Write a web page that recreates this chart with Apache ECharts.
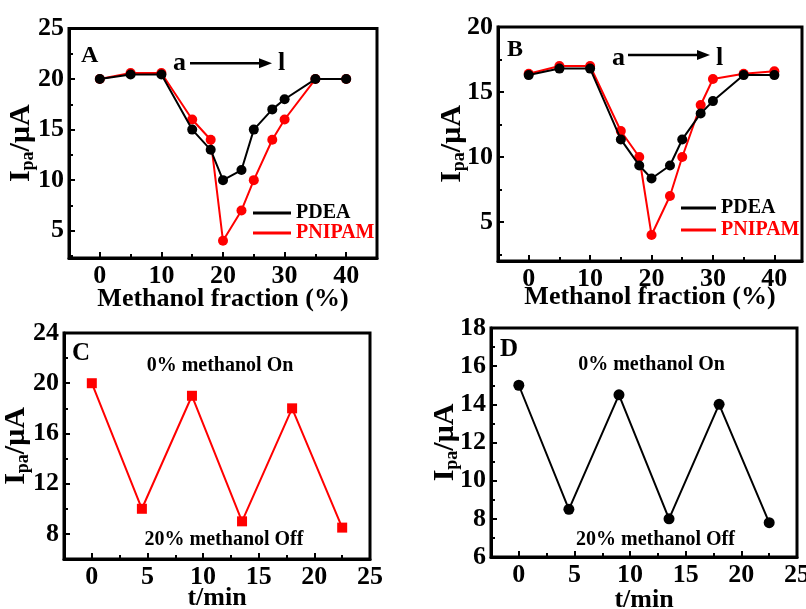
<!DOCTYPE html>
<html><head><meta charset="utf-8">
<script src="https://cdn.jsdelivr.net/npm/echarts@6/dist/echarts.min.js"></script>
<style>html,body{margin:0;padding:0;background:#fff}#c{width:806px;height:609px}</style>
</head><body><div id="c"></div>
<script>
// ---------- data ----------
const fractionX = [0, 5, 10, 15, 18, 20, 23, 25, 28, 30, 35, 40];
const pdeaA   = [20, 20.45, 20.45, 15, 13, 10, 11, 15, 17, 18, 20, 20];
const pnipamA = [20, 20.6, 20.6, 16, 14, 4, 7, 10, 14, 16, 20, 20];
const pdeaB   = [16.3, 16.8, 16.8, 11.35, 9.35, 8.35, 9.35, 11.35, 13.35, 14.3, 16.3, 16.3];
const pnipamB = [16.4, 17, 17, 12, 10, 4, 7, 10, 14, 16, 16.4, 16.6];
const timeX = [0, 4.5, 9, 13.5, 18, 22.5];
const ipaC = [20, 10, 19, 9, 18, 8.5];
const ipaD = [15, 8.5, 14.5, 8, 14, 7.8];

// tick labels / tick positions
const fracLabels = [0, 10, 20, 30, 40];
const fracMinor = [-5, 5, 15, 25, 35, 45];
const yLabelsA = [5, 10, 15, 20, 25];
const yMinorA = [2.5, 7.5, 12.5, 17.5, 22.5];
const yLabelsB = [5, 10, 15, 20];
const yMinorB = [2.5, 7.5, 12.5, 17.5];
const timeLabels = [0, 5, 10, 15, 20, 25];
const timeMinor = [-2.5, 2.5, 7.5, 12.5, 17.5, 22.5];
const yLabelsC = [8, 12, 16, 20, 24];
const yMinorC = [6, 10, 14, 18, 22];
const yLabelsD = [6, 8, 10, 12, 14, 16, 18];
const yMinorD = [7, 9, 11, 13, 15, 17];

const seriesNames = ['PDEA', 'PNIPAM'];
const xTitleA = 'Methanol fraction (%)';
const xTitleC = 't/min';

// ---------- styling helpers ----------
const SERIF = '"Liberation Serif", "Times New Roman", serif';
const RED = '#ff0000';
const BLACK = '#000000';
const zip = (xs, ys) => xs.map((x, i) => [x, ys[i]]);

const yName = '{m|I}{s|pa}{m|/μA}';
const yNameStyle = {
  color: BLACK,
  rich: {
    m: { fontFamily: SERIF, fontWeight: 'bold', fontSize: 30, lineHeight: 32 },
    s: { fontFamily: SERIF, fontWeight: 'bold', fontSize: 18, lineHeight: 15, verticalAlign: 'bottom' }
  }
};

function mainX(g, min, max, labels, name, nameGap) {
  return {
    gridIndex: g, type: 'value', min, max, position: 'bottom',
    axisLine: { onZero: false, lineStyle: { color: BLACK, width: 3 } },
    axisTick: { inside: true, length: 6, lineStyle: { color: BLACK, width: 2 }, customValues: labels },
    axisLabel: { customValues: labels, color: BLACK, fontFamily: SERIF, fontWeight: 'bold', fontSize: 26, margin: 5 },
    splitLine: { show: false },
    name, nameLocation: 'middle', nameGap, nameMoveOverlap: false,
    nameTextStyle: { color: BLACK, fontFamily: SERIF, fontWeight: 'bold', fontSize: 26 }
  };
}
function mainY(g, min, max, labels, nameGap) {
  return {
    gridIndex: g, type: 'value', min, max, position: 'left',
    axisLine: { onZero: false, lineStyle: { color: BLACK, width: 3 } },
    axisTick: { inside: true, length: 6, lineStyle: { color: BLACK, width: 2 }, customValues: labels },
    axisLabel: { customValues: labels, color: BLACK, fontFamily: SERIF, fontWeight: 'bold', fontSize: 26, margin: 5 },
    splitLine: { show: false },
    name: yName, nameLocation: 'middle', nameGap, nameMoveOverlap: false, nameTextStyle: yNameStyle
  };
}
function minorAxis(g, min, max, ticks, pos) {
  return {
    gridIndex: g, type: 'value', min, max, position: pos,
    axisLine: { show: false, onZero: false },
    axisTick: { inside: true, length: 4, lineStyle: { color: BLACK, width: 2 }, customValues: ticks },
    axisLabel: { show: false },
    splitLine: { show: false }
  };
}
function lineSeries(name, g, data, color, symbol, size, z) {
  return {
    type: 'line', name, xAxisIndex: g, yAxisIndex: g, data,
    symbol, symbolSize: size, z,
    lineStyle: { color, width: 2 }, itemStyle: { color },
    emphasis: { disabled: true }
  };
}
const gridBox = (left, top, width, height) => ({
  left, top, width, height, show: true, borderColor: BLACK, borderWidth: 3,
  backgroundColor: 'transparent', containLabel: false, outerBoundsMode: 'none'
});
const txt = (text, x, y, size, color, align) => ({
  type: 'text', x, y, silent: true,
  style: { text, fill: color || BLACK, font: 'bold ' + size + 'px ' + SERIF, align: align || 'left', verticalAlign: 'middle' }
});
const arrow = (x1, x2, y) => ({
  type: 'group', silent: true, children: [
    { type: 'line', shape: { x1, y1: y, x2: x2 - 10, y2: y }, style: { stroke: BLACK, lineWidth: 2.5 } },
    { type: 'polygon', shape: { points: [[x2 - 13, y - 5], [x2, y], [x2 - 13, y + 5]] }, style: { fill: BLACK } }
  ]
});
const legendAt = (left, top, gap, w) => ({
  orient: 'vertical', left, top, padding: 0, itemGap: gap, itemWidth: w, itemHeight: 3,
  icon: 'rect', selectedMode: false,
  textStyle: { fontFamily: SERIF, fontWeight: 'bold', fontSize: 20, lineHeight: 20 },
  data: [
    { name: seriesNames[0], textStyle: { color: BLACK } },
    { name: seriesNames[1], textStyle: { color: RED } }
  ]
});

const option = {
  animation: false,
  backgroundColor: '#ffffff',
  grid: [
    gridBox(69, 28.5, 308, 229.5),
    gridBox(498, 27, 304, 234),
    gridBox(64, 333, 306, 226),
    gridBox(491, 328, 306, 229)
  ],
  xAxis: [
    mainX(0, -5, 45, fracLabels, xTitleA, 28),
    mainX(1, -5, 44.5, fracLabels, xTitleA, 23),
    mainX(2, -2.5, 25, timeLabels, xTitleC, 26),
    mainX(3, -2.5, 25, timeLabels, xTitleC, 30),
    minorAxis(0, -5, 45, fracMinor, 'bottom'),
    minorAxis(1, -5, 44.5, fracMinor, 'bottom'),
    minorAxis(2, -2.5, 25, timeMinor, 'bottom'),
    minorAxis(3, -2.5, 25, timeMinor, 'bottom')
  ],
  yAxis: [
    mainY(0, 2.3, 25, yLabelsA, 32),
    mainY(1, 2, 20, yLabelsB, 30),
    mainY(2, 6, 24, yLabelsC, 32),
    mainY(3, 6, 18, yLabelsD, 30),
    minorAxis(0, 2.3, 25, yMinorA, 'left'),
    minorAxis(1, 2, 20, yMinorB, 'left'),
    minorAxis(2, 6, 24, yMinorC, 'left'),
    minorAxis(3, 6, 18, yMinorD, 'left')
  ],
  legend: [legendAt(253, 203, 0, 38), legendAt(681, 198, 2, 35)],
  series: [
    lineSeries(seriesNames[1], 0, zip(fractionX, pnipamA), RED, 'circle', 10, 2),
    lineSeries(seriesNames[0], 0, zip(fractionX, pdeaA), BLACK, 'circle', 10, 3),
    lineSeries(seriesNames[1], 1, zip(fractionX, pnipamB), RED, 'circle', 10, 2),
    lineSeries(seriesNames[0], 1, zip(fractionX, pdeaB), BLACK, 'circle', 10, 3),
    lineSeries('C', 2, zip(timeX, ipaC), RED, 'rect', 10, 2),
    lineSeries('D', 3, zip(timeX, ipaD), BLACK, 'circle', 11, 2)
  ],
  graphic: [
    txt('A', 81, 56, 24),
    txt('a', 173, 63, 26), arrow(190, 272, 63.3), txt('l', 278, 63, 26),
    txt('B', 507, 49.5, 24),
    txt('a', 612, 58, 26), arrow(628, 710, 55), txt('l', 716, 58, 26),
    txt('C', 72, 353.5, 25),
    txt('0% methanol On', 220, 366, 20, BLACK, 'center'),
    txt('20% methanol Off', 224, 540, 20, BLACK, 'center'),
    txt('D', 500, 349.5, 25),
    txt('0% methanol On', 651.5, 364.5, 20, BLACK, 'center'),
    txt('20% methanol Off', 655.5, 539.5, 20, BLACK, 'center')
  ]
};
echarts.init(document.getElementById('c'), null, { renderer: 'canvas' }).setOption(option);
</script></body></html>
